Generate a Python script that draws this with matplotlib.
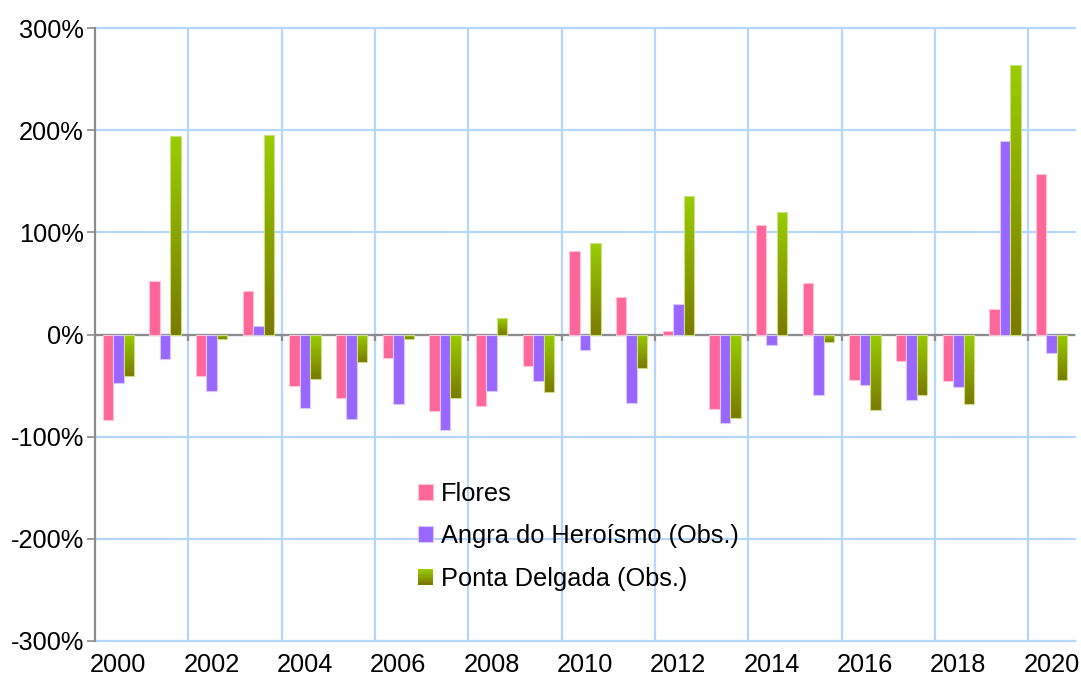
import numpy as np
import matplotlib
matplotlib.use('Agg')
import matplotlib.pyplot as plt
from matplotlib.colors import LinearSegmentedColormap
from matplotlib.legend_handler import HandlerBase
from matplotlib.patches import Rectangle

# valores (variação em %)
years = list(range(2000, 2021))
flores = [-84, 52, -41, 43, -50, -62, -23, -75, -70, -31, 82, 37, 3,
          -73, 107, 50, -45, -26, -46, 25, 157]
angra = [-47, -24, -55, 8, -72, -83, -68, -93, -55, -46, -15, -67, 30,
         -87, -10, -59, -49, -64, -51, 189, -18]
ponta = [-41, 194, -4, 195, -44, -27, -4, -62, 16, -56, 90, -33, 136,
         -82, 120, -7, -74, -59, -68, 264, -45]
names = ['Flores', 'Angra do Heroísmo (Obs.)', 'Ponta Delgada (Obs.)']
yticks = [-300, -200, -100, 0, 100, 200, 300]

plt.rcParams['font.family'] = ['Liberation Sans', 'DejaVu Sans']
FS = 18.3
grid_c = '#b4d7fb'
axis_c = '#8c8c8c'
pink = '#ff6699'
purple = '#9966ff'
green_cmap = LinearSegmentedColormap.from_list('pd', ['#7a7a00', '#9acd00'])


class GradHandler(HandlerBase):
    # quadrado da legenda com gradiente (verde em cima, oliva em baixo)
    def create_artists(self, legend, orig_handle, xdescent, ydescent,
                       width, height, fontsize, trans):
        n = 12
        arts = []
        for i in range(n):
            r = Rectangle((-xdescent, -ydescent + height * i / n), width,
                          height / n * 1.05, facecolor=green_cmap(i / (n - 1)),
                          edgecolor='none', transform=trans)
            arts.append(r)
        return arts


fig = plt.figure(figsize=(10.81, 6.77), dpi=100)
ax = fig.add_axes([95 / 1081, 1 - 641 / 677, 980 / 1081, 613 / 677])

x = np.arange(len(years))
w = 0.222
b1 = ax.bar(x - w, flores, w, color=pink, edgecolor='#ffc2d6', lw=0.8,
            zorder=3, label=names[0])
b2 = ax.bar(x, angra, w, color=purple, edgecolor='#d9c7ff', lw=0.8,
            zorder=3, label=names[1])
b3 = ax.bar(x + w, ponta, w, color='none', edgecolor='#c8e080', lw=0.8,
            zorder=4, label=names[2])

grad = np.linspace(0, 1, 256).reshape(-1, 1)
for bar in b3:
    bx, by = bar.get_x(), bar.get_y()
    bw, bh = bar.get_width(), bar.get_height()
    y0, y1 = min(by, by + bh), max(by, by + bh)
    im = ax.imshow(grad, extent=[bx, bx + bw, y0, y1], origin='lower',
                   aspect='auto', cmap=green_cmap, zorder=3)
    im.set_clip_path(bar)

ax.set_xlim(-0.5, len(years) - 0.5)
ax.set_ylim(-300, 300)

# grelha
ax.set_yticks(yticks)
ax.set_yticklabels([f'{v}%' for v in yticks], fontsize=FS)
ax.set_xticks(x[::2])
ax.set_xticklabels([str(y) for y in years[::2]], fontsize=FS)
ax.set_xticks(np.arange(1.5, len(years) - 1, 2), minor=True)
ax.tick_params(axis='x', which='both', length=0, pad=9)
ax.tick_params(axis='y', length=6, width=1.2, color=axis_c, pad=2)
ax.grid(axis='y', color=grid_c, lw=1.6, zorder=0)
ax.grid(axis='x', which='minor', color=grid_c, lw=1.6, zorder=0)
for ln in ax.get_ygridlines():
    ln.set_clip_on(False)

ax.axhline(0, color=axis_c, lw=1.6, zorder=2)
ax.vlines(np.arange(1.5, len(years) - 1, 2), -6, 0, color=axis_c, lw=1.6,
          zorder=2)

for s in ['top', 'right', 'bottom']:
    ax.spines[s].set_visible(False)
ax.spines['left'].set_color(axis_c)
ax.spines['left'].set_linewidth(1.6)
ax.spines['left'].set_zorder(5)

ax.legend(handles=[b1, b2, b3], labels=names,
          handler_map={b3: GradHandler()},
          loc='upper left', bbox_to_anchor=(418 / 1081, 1 - 482 / 677),
          bbox_transform=fig.transFigure, frameon=False, fontsize=FS,
          borderpad=0, borderaxespad=0, handlelength=0.6, handleheight=0.6,
          handletextpad=0.3, labelspacing=0.72)

fig.savefig('out.png', dpi=100)
